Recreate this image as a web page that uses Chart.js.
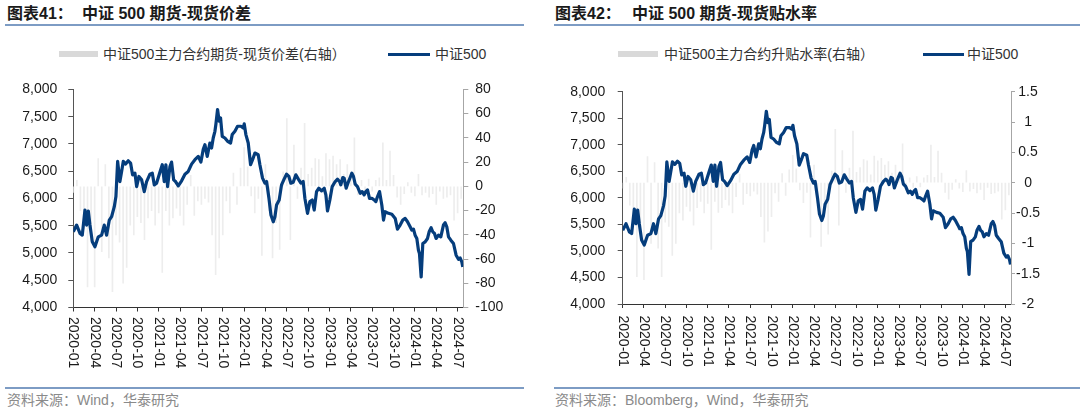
<!DOCTYPE html>
<html lang="zh-CN">
<head>
<meta charset="utf-8">
<script src="https://cdn.jsdelivr.net/npm/chart.js@4.4.1/dist/chart.umd.min.js"></script>
<style>
  body { margin:0; width:1080px; height:412px; background:#fff; position:relative; overflow:hidden;
         font-family:"Liberation Sans", Arial, "Noto Sans CJK SC", sans-serif; color:#222; }
  .abs { position:absolute; white-space:nowrap; }
  .title { font-size:16px; font-weight:bold; top:4px; line-height:19px; color:#1a1a1a; }
  .rule { height:2px; background:#7d9cc4; }
  .lg { font-size:14px; top:46px; line-height:16px; color:#333; }
  .src { font-size:14px; top:392px; line-height:17px; color:#8a8a8a; }
  canvas { position:absolute; top:70px; }
</style>
</head>
<body>
<div class="abs title" style="left:7px">图表41：</div>
<div class="abs title" style="left:82px">中证 500 期货-现货价差</div>
<div class="abs rule" style="left:5px; top:24px; width:519px"></div>
<div class="abs" style="left:59px; top:51px; width:39px; height:6px; background:#d9d9d9"></div>
<div class="abs lg" style="left:103px">中证500主力合约期货-现货价差(右轴）</div>
<div class="abs" style="left:388px; top:53px; width:42px; height:3px; background:#053d7c"></div>
<div class="abs lg" style="left:435px">中证500</div>
<canvas id="chartBasis" width="540" height="310" style="left:0px"></canvas>
<div class="abs rule" style="left:5px; top:387px; width:519px"></div>
<div class="abs src" style="left:7px">资料来源：Wind，华泰研究</div>

<div class="abs title" style="left:555px">图表42：</div>
<div class="abs title" style="left:632px">中证 500 期货-现货贴水率</div>
<div class="abs rule" style="left:554px; top:24px; width:526px"></div>
<div class="abs" style="left:618px; top:51px; width:40px; height:6px; background:#d9d9d9"></div>
<div class="abs lg" style="left:664px">中证500主力合约升贴水率(右轴）</div>
<div class="abs" style="left:923px; top:53px; width:41px; height:3px; background:#053d7c"></div>
<div class="abs lg" style="left:967px">中证500</div>
<canvas id="chartRate" width="540" height="310" style="left:540px"></canvas>
<div class="abs rule" style="left:554px; top:387px; width:526px"></div>
<div class="abs src" style="left:555px">资料来源：Bloomberg，Wind，华泰研究</div>

<script>
// x轴：自2020-01起的月份数
const xTickLabels = ['2020-01', '2020-04', '2020-07', '2020-10', '2021-01', '2021-04', '2021-07', '2021-10',
    '2022-01', '2022-04', '2022-07', '2022-10', '2023-01', '2023-04', '2023-07', '2023-10',
    '2024-01', '2024-04', '2024-07'];

// 中证500指数
const idxMonths = [
    0, 0.47, 0.94, 1.26, 1.64, 1.87, 2.11, 2.34, 2.67, 3.04,
    3.51, 3.98, 4.35, 4.68, 5.06, 5.38, 5.76, 5.99, 6.23, 6.55,
    6.79, 7.02, 7.35, 7.72, 8.05, 8.33, 8.66, 8.9, 9.22, 9.6,
    9.97, 10.3, 10.77, 11.1, 11.38, 11.7, 12.17, 12.5, 12.78, 13.01,
    13.25, 13.58, 13.81, 14.1, 14.37, 14.75, 15.22, 15.69, 16.15, 16.62,
    17.09, 17.56, 17.93, 18.26, 18.49, 18.82, 19.19, 19.43, 19.66, 19.9,
    20.04, 20.27, 20.5, 20.69, 20.93, 21.3, 21.68, 22.1, 22.33, 22.71,
    23.08, 23.55, 23.88, 24.02, 24.25, 24.58, 24.91, 25.19, 25.52, 25.98,
    26.22, 26.59, 26.92, 27.16, 27.49, 27.77, 28.1, 28.33, 28.56, 28.93,
    29.26, 29.64, 29.96, 30.29, 30.57, 30.9, 31.27, 31.6, 31.98, 32.3,
    32.54, 32.91, 33.24, 33.57, 33.85, 34.18, 34.5, 34.88, 35.25, 35.49,
    35.72, 36.05, 36.38, 36.8, 37.13, 37.41, 37.59, 37.87, 38.06, 38.34,
    38.67, 38.9, 39.14, 39.37, 39.61, 39.93, 40.31, 40.59, 40.87, 41.1,
    41.34, 41.62, 41.95, 42.28, 42.51, 42.75, 43.03, 43.35, 43.59, 43.82,
    44.29, 44.76, 45.23, 45.55, 45.93, 46.3, 46.63, 46.96, 47.33, 47.56,
    47.8, 48.03, 48.27, 48.5, 48.64, 48.88, 49.11, 49.44, 49.77, 50.0,
    50.28, 50.51, 50.75, 50.98, 51.31, 51.64, 52.01, 52.25, 52.48, 52.72,
    53.05, 53.42, 53.79, 54.12, 54.35, 54.59, 54.73
];
const idxValues = [
    5389, 5512, 5358, 5327, 5788, 5512, 5770, 5512, 5204, 5112,
    5296, 5327, 5512, 5327, 5604, 5665, 5849, 6034, 6679, 6310,
    6495, 6679, 6630, 6691, 6648, 6433, 6464, 6218, 6403, 6341,
    6126, 6310, 6445, 6464, 6249, 6280, 6482, 6618, 6310, 6618,
    6218, 6587, 6667, 6341, 6310, 6230, 6323, 6445, 6495, 6630,
    6710, 6771, 6667, 6900, 6986, 6771, 7017, 6925, 7109, 7232,
    7367, 7631, 7416, 7478, 7140, 7109, 7048, 7017, 7171, 7232,
    7324, 7324, 7293, 7367, 7171, 7017, 6618, 6710, 6833, 6802,
    6618, 6372, 6280, 6310, 6003, 5696, 5573, 5665, 5880, 5972,
    6249, 6359, 6445, 6403, 6280, 6298, 6433, 6359, 6280, 6310,
    6003, 5727, 5942, 5972, 5788, 6126, 6187, 6138, 6187, 6065,
    5770, 5972, 6218, 6310, 6353, 6310, 6249, 6384, 6372, 6187,
    6310, 6384, 6464, 6403, 6261, 6218, 6095, 6126, 6065, 6126,
    6157, 6003, 6003, 5972, 5942, 6034, 6126, 5880, 5604, 5757,
    5727, 5709, 5634, 5438, 5512, 5604, 5634, 5573, 5481, 5419,
    5438, 5327, 5266, 5051, 4990, 4559, 5174, 5204, 5266, 5389,
    5463, 5389, 5358, 5266, 5327, 5296, 5512, 5554, 5481, 5296,
    5235, 5174, 4959, 4885, 4910, 4836, 4744
];

// 主力合约期货-现货价差 / 升贴水率（半月）
const basisMonths = [
    0, 0.5, 1, 1.5, 2, 2.5, 3, 3.5, 4, 4.5,
    5, 5.5, 6, 6.5, 7, 7.5, 8, 8.5, 9, 9.5,
    10, 10.5, 11, 11.5, 12, 12.5, 13, 13.5, 14, 14.5,
    15, 15.5, 16, 16.5, 17, 17.5, 18, 18.5, 19, 19.5,
    20, 20.5, 21, 21.5, 22, 22.5, 23, 23.5, 24, 24.5,
    25, 25.5, 26, 26.5, 27, 27.5, 28, 28.5, 29, 29.5,
    30, 30.5, 31, 31.5, 32, 32.5, 33, 33.5, 34, 34.5,
    35, 35.5, 36, 36.5, 37, 37.5, 38, 38.5, 39, 39.5,
    40, 40.5, 41, 41.5, 42, 42.5, 43, 43.5, 44, 44.5,
    45, 45.5, 46, 46.5, 47, 47.5, 48, 48.5, 49, 49.5,
    50, 50.5, 51, 51.5, 52, 52.5, 53, 53.5, 54, 54.5
];
const basisValues = [
    -5, 5, -20, -35, -83, -45, -83, 23, -54, 18,
    -59, -87, -40, -46, -80, -67, -32, -40, -25, -30,
    -44, -26, -20, -32, -22, -71, -20, -32, -26, -18,
    -24, -32, -15, 9, -24, -12, -15, -10, -13, -40,
    -73, -59, -40, -12, -22, 11, -15, 15, 32, 16,
    -8, -22, -10, -57, 18, -20, -59, -30, -52, 12,
    56, -44, 34, -10, 15, 52, 10, 15, 23, 22,
    8, 27, 22, 25, 18, 22, 10, 18, 8, 40,
    -7, 5, -5, 6, -4, 5, 7, 36, 5, 29,
    9, -9, -15, -6, 3, -5, -8, 10, -7, -5,
    -9, -6, -15, -4, -10, -9, -7, -28, -22, -10
];
const rateValues = [
    -0.09, 0.09, -0.37, -0.65, -1.55, -0.85, -1.6, 0.43, -1.0, 0.33,
    -1.08, -1.55, -0.65, -0.72, -1.2, -1.0, -0.5, -0.62, -0.39, -0.47,
    -0.7, -0.41, -0.31, -0.5, -0.34, -1.1, -0.31, -0.49, -0.41, -0.28,
    -0.37, -0.5, -0.23, 0.14, -0.36, -0.18, -0.22, -0.14, -0.19, -0.56,
    -0.98, -0.8, -0.56, -0.17, -0.31, 0.15, -0.21, 0.21, 0.45, 0.23,
    -0.12, -0.33, -0.16, -0.9, 0.29, -0.33, -1.05, -0.5, -0.85, 0.19,
    0.88, -0.7, 0.53, -0.16, 0.24, 0.85, 0.17, 0.25, 0.38, 0.36,
    0.13, 0.44, 0.36, 0.4, 0.29, 0.35, 0.16, 0.29, 0.13, 0.64,
    -0.11, 0.08, -0.08, 0.1, -0.07, 0.08, 0.12, 0.62, 0.09, 0.52,
    0.16, -0.16, -0.27, -0.11, 0.05, -0.09, -0.15, 0.2, -0.14, -0.1,
    -0.17, -0.11, -0.28, -0.08, -0.18, -0.17, -0.14, -0.6, -0.45, -0.2
];

const NAVY = '#053d7c';
const FONT = '"Liberation Sans", Arial, sans-serif';
Chart.defaults.font.family = FONT;
Chart.defaults.font.size = 14;
Chart.defaults.color = '#1a1a1a';

// x轴标签竖排（从上往下读）
const verticalTickLabels = {
    id: 'verticalTickLabels',
    afterDraw(chart, args, opts) {
        const xs = chart.scales.x;
        const ctx = chart.ctx;
        ctx.save();
        ctx.font = '14px ' + FONT;
        ctx.fillStyle = '#1a1a1a';
        ctx.textAlign = 'left';
        ctx.textBaseline = 'middle';
        xs.ticks.forEach(t => {
            const label = xTickLabels[Math.round(t.value / 3)];
            if (!label) return;
            ctx.save();
            ctx.translate(xs.getPixelForValue(t.value), xs.top + opts.gap);
            ctx.rotate(Math.PI / 2);
            ctx.fillText(label, 0, 0);
            ctx.restore();
        });
        ctx.restore();
    }
};

function buildChart(id, o) {
    const line = idxMonths.map((m, i) => ({ x: m, y: idxValues[i] }));
    const bars = basisMonths.map((m, i) => ({ x: m, y: o.bars[i] }));
    return new Chart(document.getElementById(id), {
        type: 'line',
        data: {
            datasets: [{
                type: 'line',
                label: '中证500',
                data: line,
                yAxisID: 'y',
                borderColor: NAVY,
                borderWidth: 3.2,
                pointRadius: 0,
                borderJoinStyle: 'round',
                tension: 0,
                order: 0
            }, {
                type: 'bar',
                label: o.barLabel,
                data: bars,
                yAxisID: 'y1',
                backgroundColor: '#ededed',
                barThickness: 1,
                order: 1
            }]
        },
        options: {
            responsive: false,
            animation: false,
            layout: { padding: { top: o.padTop, left: 0, right: 0, bottom: 0 } },
            plugins: {
                legend: { display: false },
                tooltip: { enabled: false },
                verticalTickLabels: { gap: o.labelGap }
            },
            scales: {
                x: {
                    type: 'linear',
                    min: 0,
                    max: 54.8,
                    offset: false,
                    afterFit: s => { s.height = o.xHeight; },
                    ticks: { display: false, stepSize: 3, includeBounds: false },
                    grid: { drawOnChartArea: false, offset: false, tickLength: 4, color: '#333' },
                    border: { color: '#333', width: 1 }
                },
                y: {
                    position: 'left',
                    min: 4000,
                    max: 8000,
                    afterFit: s => { s.width = o.leftW; },
                    ticks: { stepSize: 500, padding: o.leftPad, callback: v => v.toLocaleString('en-US') },
                    grid: { drawOnChartArea: false, tickLength: 5, color: '#555' },
                    border: { color: '#555' }
                },
                y1: {
                    position: 'right',
                    min: o.rMin,
                    max: o.rMax,
                    afterFit: s => { s.width = o.rightW; },
                    ticks: {
                        stepSize: o.rStep,
                        padding: o.rightPad,
                        crossAlign: o.rAlign,
                        callback: v => String(Math.round(v * 10) / 10)
                    },
                    grid: { drawOnChartArea: false, tickLength: o.rTick, color: '#a6a6a6' },
                    border: { color: '#a6a6a6' }
                }
            }
        },
        plugins: [verticalTickLabels]
    });
}

document.addEventListener('DOMContentLoaded', () => {
    buildChart('chartBasis', {
        bars: basisValues, barLabel: '中证500主力合约期货-现货价差(右轴）',
        padTop: 19.3, xHeight: 72.5, labelGap: 9.5,
        leftW: 73.3, leftPad: 11,
        rightW: 76.7, rightPad: 7, rTick: 5, rAlign: 'near',
        rMin: -100, rMax: 80, rStep: 20
    });
    buildChart('chartRate', {
        bars: rateValues, barLabel: '中证500主力合约升贴水率(右轴）',
        padTop: 21.7, xHeight: 76, labelGap: 11.5,
        leftW: 82.7, leftPad: 12.5,
        rightW: 69, rightPad: 1, rTick: 4, rAlign: 'center',
        rMin: -2, rMax: 1.5, rStep: 0.5
    });
});
</script>
</body>
</html>
